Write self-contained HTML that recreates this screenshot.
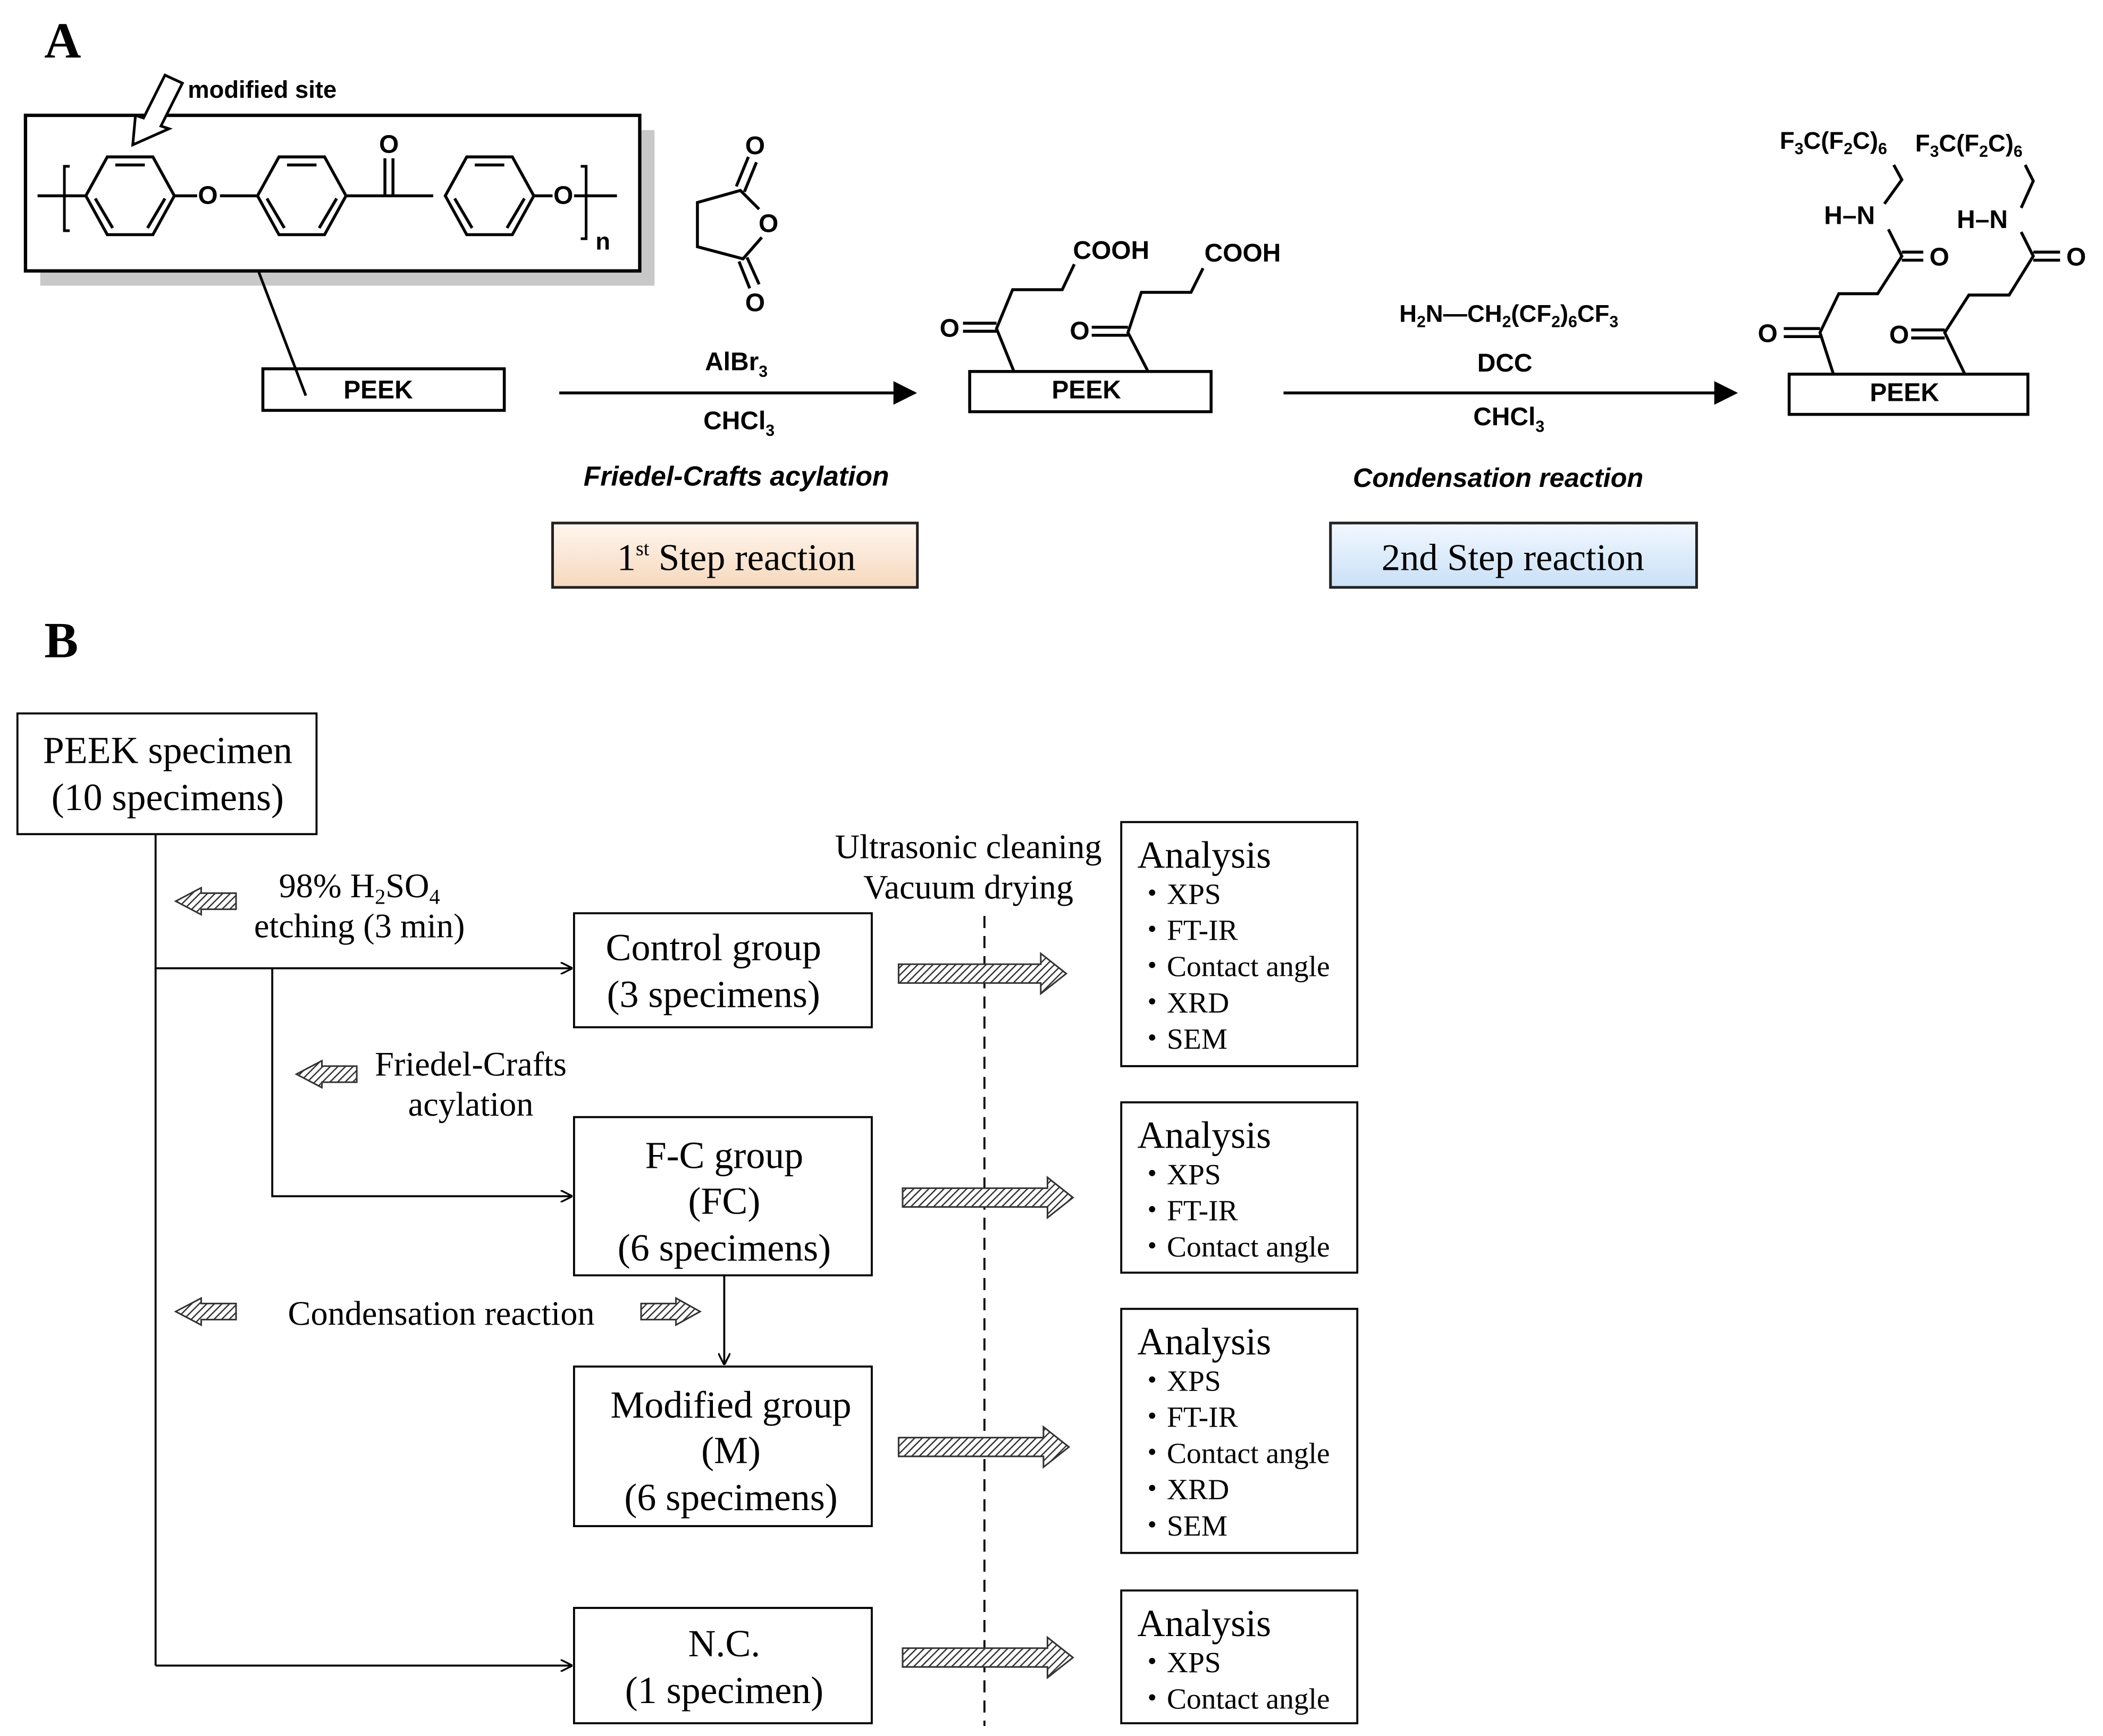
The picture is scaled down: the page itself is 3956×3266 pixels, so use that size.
<!DOCTYPE html>
<html><head><meta charset="utf-8"><style>
html,body{margin:0;padding:0;background:#fff;}
svg{display:block;}
.s{font-family:"Liberation Sans",sans-serif;font-weight:bold;}
.r{font-family:"Liberation Serif",serif;}
</style></head><body>
<svg width="3956" height="3266" viewBox="0 0 1568 1294.5" xmlns="http://www.w3.org/2000/svg">
<defs>
<pattern id="h" width="4" height="4" patternUnits="userSpaceOnUse" patternTransform="rotate(45)">
<rect width="4" height="4" fill="#fff"/><line x1="0" y1="0" x2="0" y2="4" stroke="#333" stroke-width="2"/>
</pattern>
<linearGradient id="pe" x1="0" y1="0" x2="0" y2="1"><stop offset="0" stop-color="#fff6ee"/><stop offset="1" stop-color="#f6d8bd"/></linearGradient>
<linearGradient id="bl" x1="0" y1="0" x2="0" y2="1"><stop offset="0" stop-color="#f2f8ff"/><stop offset="1" stop-color="#c9e0f6"/></linearGradient>
<marker id="ar" viewBox="0 0 10 10" refX="9" refY="5" markerWidth="8" markerHeight="8" orient="auto"><path d="M0,0 L10,5 L0,10 z" fill="#000"/></marker>
<marker id="ao" viewBox="0 0 10 10" refX="9" refY="5" markerWidth="9" markerHeight="9" orient="auto" markerUnits="userSpaceOnUse"><path d="M0,0 L10,5 L0,10" fill="none" stroke="#000" stroke-width="1.5"/></marker>
<g id="ring" fill="none" stroke="#000" stroke-width="2.2">
<path d="M-33,0 L-17,-29 L17,-29 L33,0 L17,29 L-17,29 Z"/>
<line x1="-11" y1="-23" x2="11" y2="-23"/>
<line x1="-26" y1="2" x2="-13" y2="24"/>
<line x1="26" y1="2" x2="13" y2="24"/>
</g>
</defs>

<text x="33" y="43" class="r" font-weight="bold" font-size="38">A</text>
<text x="33" y="490" class="r" font-weight="bold" font-size="38">B</text>

<!-- structure box -->
<rect x="30" y="97" width="458" height="116" fill="#c8c8c8"/>
<rect x="19" y="86" width="458" height="116" fill="#fff" stroke="#000" stroke-width="2.5"/>
<text x="140" y="73" class="s" font-size="18">modified site</text>
<path d="M136,62 L120,94 L126,96 L99,108 L101,86 L107,88 L123,56 Z" fill="#fff" stroke="#000" stroke-width="2"/>
<path d="M52,124 L48,124 L48,172 L52,172" fill="none" stroke="#000" stroke-width="2"/>
<path d="M433,124 L437,124 L437,178 L433,178" fill="none" stroke="#000" stroke-width="2"/>
<text x="444" y="186" class="s" font-size="18">n</text>
<g stroke="#000" stroke-width="2.2">
<line x1="28" y1="146" x2="64" y2="146"/>
<line x1="130" y1="146" x2="147" y2="146"/>
<line x1="164" y1="146" x2="192" y2="146"/>
<line x1="258" y1="146" x2="323" y2="146"/>
<line x1="287" y1="146" x2="287" y2="118"/><line x1="293" y1="146" x2="293" y2="118"/>
<line x1="398" y1="146" x2="412" y2="146"/>
<line x1="428" y1="146" x2="460" y2="146"/>
</g>
<use href="#ring" x="97" y="146"/>
<use href="#ring" x="225" y="146"/>
<use href="#ring" x="365" y="146"/>
<text x="155" y="152" class="s" font-weight="normal" font-size="19" text-anchor="middle">O</text>
<text x="290" y="114" class="s" font-weight="normal" font-size="19" text-anchor="middle">O</text>
<text x="420" y="152" class="s" font-weight="normal" font-size="19" text-anchor="middle">O</text>
<rect x="196" y="275" width="180" height="31" fill="none" stroke="#000" stroke-width="2.2"/>
<line x1="193" y1="203" x2="228" y2="295" stroke="#000" stroke-width="2"/>
<text x="282" y="297" class="s" font-size="19" text-anchor="middle">PEEK</text>

<!-- anhydride -->
<g fill="none" stroke="#000" stroke-width="2.2">
<path d="M566,156 L552,142 L520,151 L520,184 L554,193 L568,177"/>
<line x1="549" y1="139" x2="558" y2="117"/><line x1="555" y1="143" x2="564" y2="121"/>
<line x1="551" y1="195" x2="559" y2="215"/><line x1="557" y1="192" x2="566" y2="212"/>
</g>
<text x="563" y="115" class="s" font-weight="normal" font-size="19" text-anchor="middle">O</text>
<text x="573" y="173" class="s" font-weight="normal" font-size="19" text-anchor="middle">O</text>
<text x="563" y="232" class="s" font-weight="normal" font-size="19" text-anchor="middle">O</text>

<line x1="417" y1="293" x2="682" y2="293" stroke="#000" stroke-width="2.2" marker-end="url(#ar)"/>
<text x="549" y="276" class="s" font-weight="normal" font-size="19" text-anchor="middle">AlBr<tspan font-size="12" dy="5">3</tspan></text>
<text x="551" y="320" class="s" font-weight="normal" font-size="19" text-anchor="middle">CHCl<tspan font-size="12" dy="5">3</tspan></text>
<text x="549" y="362" class="s" font-style="italic" font-size="20.5" text-anchor="middle">Friedel-Crafts acylation</text>
<rect x="412" y="390" width="272" height="48" fill="url(#pe)" stroke="#222" stroke-width="2"/>
<text x="549" y="425" class="r" font-size="28" text-anchor="middle">1<tspan font-size="15" dy="-11">st</tspan><tspan dy="11">  Step reaction</tspan></text>

<!-- PEEK 2 -->
<rect x="723" y="277" width="180" height="30" fill="none" stroke="#000" stroke-width="2.2"/>
<text x="810" y="297" class="s" font-size="19" text-anchor="middle">PEEK</text>
<g fill="none" stroke="#000" stroke-width="2.2">
<path d="M756,277 L743,245 L755,216 L792,216 L801,197"/>
<path d="M856,277 L841,248 L851,218 L888,218 L897,200"/>
<line x1="718" y1="241" x2="743" y2="241"/><line x1="718" y1="247" x2="743" y2="247"/>
<line x1="814" y1="244" x2="841" y2="244"/><line x1="814" y1="250" x2="841" y2="250"/>
</g>
<text x="708" y="251" class="s" font-weight="normal" font-size="19" text-anchor="middle">O</text>
<text x="805" y="253" class="s" font-weight="normal" font-size="19" text-anchor="middle">O</text>
<text x="800" y="193" class="s" font-weight="normal" font-size="19">COOH</text>
<text x="898" y="195" class="s" font-weight="normal" font-size="19">COOH</text>

<line x1="957" y1="293" x2="1294" y2="293" stroke="#000" stroke-width="2.2" marker-end="url(#ar)"/>
<text x="1125" y="240" class="s" font-weight="normal" font-size="18" text-anchor="middle">H<tspan font-size="12" dy="4">2</tspan><tspan dy="-4">N—CH</tspan><tspan font-size="12" dy="4">2</tspan><tspan dy="-4">(CF</tspan><tspan font-size="12" dy="4">2</tspan><tspan dy="-4">)</tspan><tspan font-size="12" dy="4">6</tspan><tspan dy="-4">CF</tspan><tspan font-size="12" dy="4">3</tspan></text>
<text x="1122" y="277" class="s" font-weight="normal" font-size="19" text-anchor="middle">DCC</text>
<text x="1125" y="317" class="s" font-weight="normal" font-size="19" text-anchor="middle">CHCl<tspan font-size="12" dy="5">3</tspan></text>
<text x="1117" y="363" class="s" font-style="italic" font-size="20" text-anchor="middle">Condensation reaction</text>
<rect x="992" y="390" width="273" height="48" fill="url(#bl)" stroke="#222" stroke-width="2"/>
<text x="1128" y="425" class="r" font-size="28" text-anchor="middle">2nd  Step reaction</text>

<!-- PEEK 3 -->
<rect x="1334" y="279" width="178" height="30" fill="none" stroke="#000" stroke-width="2.2"/>
<text x="1420" y="299" class="s" font-size="19" text-anchor="middle">PEEK</text>
<g fill="none" stroke="#000" stroke-width="2.2">
<path d="M1367,279 L1357,248 L1371,219 L1400,219 L1418,191 L1408,171"/>
<path d="M1405,152 L1418,134 L1412,123"/>
<line x1="1330" y1="245" x2="1357" y2="245"/><line x1="1330" y1="251" x2="1357" y2="251"/>
<line x1="1418" y1="188" x2="1434" y2="188"/><line x1="1418" y1="194" x2="1434" y2="194"/>
<path d="M1465,279 L1450,248 L1468,220 L1498,220 L1516,191 L1507,173"/>
<path d="M1507,155 L1516,135 L1510,123"/>
<line x1="1425" y1="246" x2="1450" y2="246"/><line x1="1425" y1="252" x2="1450" y2="252"/>
<line x1="1516" y1="188" x2="1536" y2="188"/><line x1="1516" y1="194" x2="1536" y2="194"/>
</g>
<text x="1318" y="255" class="s" font-weight="normal" font-size="19" text-anchor="middle">O</text>
<text x="1416" y="256" class="s" font-weight="normal" font-size="19" text-anchor="middle">O</text>
<text x="1446" y="198" class="s" font-weight="normal" font-size="19" text-anchor="middle">O</text>
<text x="1548" y="198" class="s" font-weight="normal" font-size="19" text-anchor="middle">O</text>
<text x="1360" y="167" class="s" font-weight="normal" font-size="19">H–N</text>
<text x="1459" y="170" class="s" font-weight="normal" font-size="19">H–N</text>
<text x="1327" y="111" class="s" font-weight="normal" font-size="18">F<tspan font-size="12" dy="4">3</tspan><tspan dy="-4">C(F</tspan><tspan font-size="12" dy="4">2</tspan><tspan dy="-4">C)</tspan><tspan font-size="12" dy="4">6</tspan></text>
<text x="1428" y="113" class="s" font-weight="normal" font-size="18">F<tspan font-size="12" dy="4">3</tspan><tspan dy="-4">C(F</tspan><tspan font-size="12" dy="4">2</tspan><tspan dy="-4">C)</tspan><tspan font-size="12" dy="4">6</tspan></text>

<!-- Part B -->
<g class="r" font-size="28.5" text-anchor="middle">
<rect x="13" y="532" width="223" height="90" fill="none" stroke="#000" stroke-width="1.5"/>
<text x="125" y="569">PEEK specimen</text>
<text x="125" y="604">(10 specimens)</text>
<rect x="428" y="681" width="222" height="85" fill="none" stroke="#000" stroke-width="1.5"/>
<text x="532" y="716">Control group</text>
<text x="532" y="751">(3 specimens)</text>
<rect x="428" y="833" width="222" height="118" fill="none" stroke="#000" stroke-width="1.5"/>
<text x="540" y="871">F-C group</text>
<text x="540" y="905">(FC)</text>
<text x="540" y="940">(6 specimens)</text>
<rect x="428" y="1019" width="222" height="119" fill="none" stroke="#000" stroke-width="1.5"/>
<text x="545" y="1057">Modified group</text>
<text x="545" y="1091">(M)</text>
<text x="545" y="1126">(6 specimens)</text>
<rect x="428" y="1199" width="222" height="86" fill="none" stroke="#000" stroke-width="1.5"/>
<text x="540" y="1235">N.C.</text>
<text x="540" y="1270">(1 specimen)</text>
</g>
<g stroke="#000" stroke-width="1.5" fill="none">
<line x1="116" y1="622" x2="116" y2="1242"/>
<line x1="116" y1="722" x2="426" y2="722" marker-end="url(#ao)"/>
<polyline points="203,722 203,892 426,892" marker-end="url(#ao)"/>
<line x1="116" y1="1242" x2="426" y2="1242" marker-end="url(#ao)"/>
<line x1="540" y1="951" x2="540" y2="1017" marker-end="url(#ao)"/>
<line x1="734" y1="683" x2="734" y2="1287" stroke-dasharray="9,6"/>
</g>
<g class="r" font-size="25.5" text-anchor="middle">
<text x="268" y="669">98% H<tspan font-size="16" dy="5">2</tspan><tspan dy="-5">SO</tspan><tspan font-size="16" dy="5">4</tspan></text>
<text x="268" y="699">etching (3 min)</text>
<text x="351" y="802">Friedel-Crafts</text>
<text x="351" y="832">acylation</text>
<text x="329" y="988">Condensation reaction</text>
<text x="722" y="640">Ultrasonic cleaning</text>
<text x="722" y="670">Vacuum drying</text>
</g>
<!-- hatched arrows -->
<g stroke="#333" stroke-width="1.2" fill="url(#h)">
<path d="M176,666 L150,666 L150,662 L131,672 L150,682 L150,678 L176,678 Z"/>
<path d="M266,795 L240,795 L240,791 L221,801 L240,811 L240,807 L266,807 Z"/>
<path d="M176,972 L150,972 L150,968 L131,978 L150,988 L150,984 L176,984 Z"/>
<path d="M478,972 L504,972 L504,968 L522,978 L504,988 L504,984 L478,984 Z"/>
<path d="M670,719 L776,719 L776,711 L795,726 L776,741 L776,733 L670,733 Z"/>
<path d="M673,886 L781,886 L781,878 L800,893 L781,908 L781,900 L673,900 Z"/>
<path d="M670,1072 L778,1072 L778,1064 L797,1079 L778,1094 L778,1086 L670,1086 Z"/>
<path d="M673,1229 L781,1229 L781,1221 L800,1236 L781,1251 L781,1243 L673,1243 Z"/>
</g>
<!-- analysis boxes -->
<g class="r" fill="#000">
<rect x="836" y="613" width="176" height="182" fill="none" stroke="#000" stroke-width="1.5"/>
<text x="848" y="647" font-size="28.5">Analysis</text>
<g font-size="22"><text x="848" y="674">・XPS</text><text x="848" y="701">・FT-IR</text><text x="848" y="728">・Contact angle</text><text x="848" y="755">・XRD</text><text x="848" y="782">・SEM</text></g>
<rect x="836" y="822" width="176" height="127" fill="none" stroke="#000" stroke-width="1.5"/>
<text x="848" y="856" font-size="28.5">Analysis</text>
<g font-size="22"><text x="848" y="883">・XPS</text><text x="848" y="910">・FT-IR</text><text x="848" y="937">・Contact angle</text></g>
<rect x="836" y="976" width="176" height="182" fill="none" stroke="#000" stroke-width="1.5"/>
<text x="848" y="1010" font-size="28.5">Analysis</text>
<g font-size="22"><text x="848" y="1037">・XPS</text><text x="848" y="1064">・FT-IR</text><text x="848" y="1091">・Contact angle</text><text x="848" y="1118">・XRD</text><text x="848" y="1145">・SEM</text></g>
<rect x="836" y="1186" width="176" height="99" fill="none" stroke="#000" stroke-width="1.5"/>
<text x="848" y="1220" font-size="28.5">Analysis</text>
<g font-size="22"><text x="848" y="1247">・XPS</text><text x="848" y="1274">・Contact angle</text></g>
</g>
</svg>
</body></html>
